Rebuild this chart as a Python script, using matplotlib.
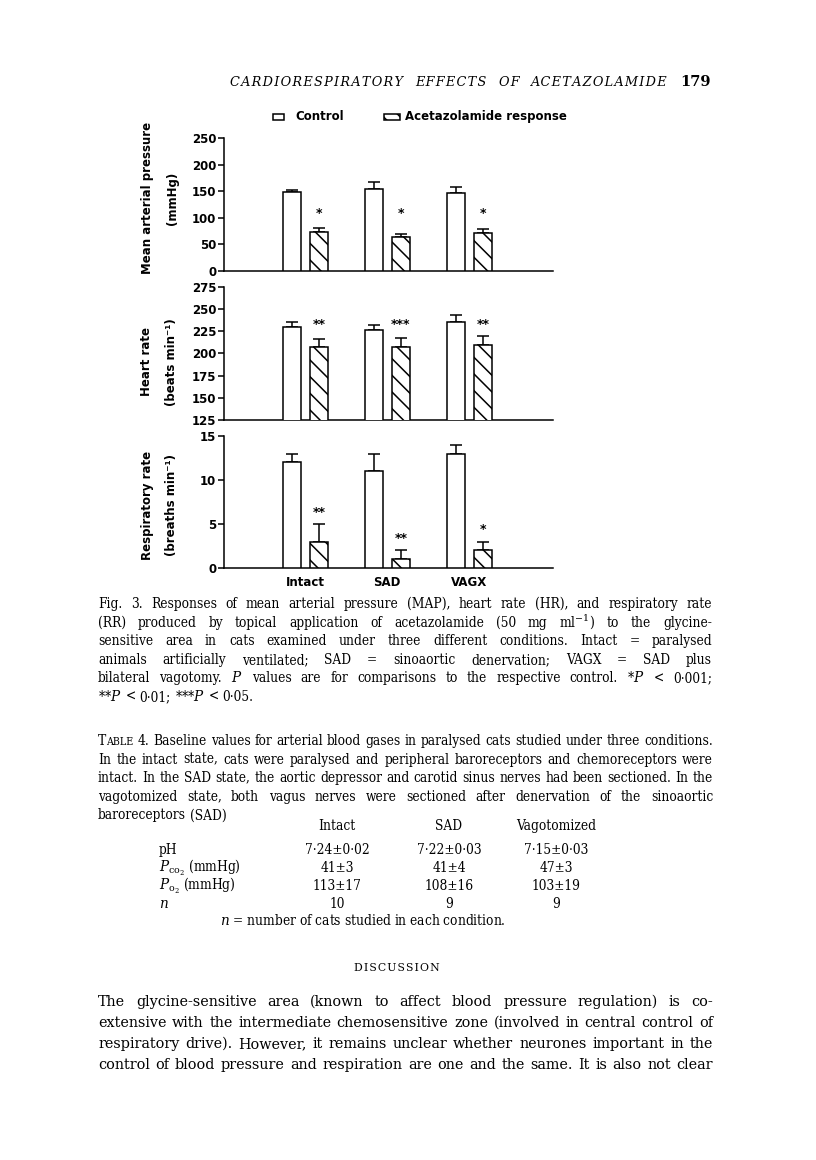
import matplotlib
matplotlib.use("Agg")
import matplotlib.pyplot as plt
import numpy as np
from matplotlib.patches import Rectangle
from matplotlib import font_manager as fm

# ---------------- data ----------------
categories = ["Intact", "SAD", "VAGX"]

map_control = [149, 155, 146]
map_control_err = [4, 13, 12]
map_acet = [74, 64, 72]
map_acet_err = [7, 6, 7]
map_stars = ["*", "*", "*"]

hr_control = [230, 227, 235]
hr_control_err = [6, 5, 8]
hr_acet = [207, 207, 210]
hr_acet_err = [9, 10, 10]
hr_stars = ["**", "***", "**"]

rr_control = [12, 11, 13]
rr_control_err = [1, 2, 1]
rr_acet = [3, 1, 2]
rr_acet_err = [2, 1, 1]
rr_stars = ["**", "**", "*"]

table_cols = ["Intact", "SAD", "Vagotomized"]
table_rows = ["pH", r"$P_{\mathrm{co}_2}$ (mmHg)", r"$P_{\mathrm{o}_2}$ (mmHg)", r"$n$"]
table_ph = ["7·24±0·02", "7·22±0·03", "7·15±0·03"]
table_pco2 = ["41±3", "41±4", "47±3"]
table_po2 = ["113±17", "108±16", "103±19"]
table_n = ["10", "9", "9"]

# ---------------- setup ----------------
plt.rcParams["mathtext.fontset"] = "dejavuserif"
plt.rcParams["hatch.linewidth"] = 1.1
W, H = 816, 1160
fig = plt.figure(figsize=(W / 100, H / 100), dpi=100)
fig.patch.set_facecolor("white")
renderer = fig.canvas.get_renderer()


def fx(x):
    return x / W


def fy(y):
    return 1 - y / H


has_cond = any(f.name == "DejaVu Serif" and str(f.stretch) == "condensed"
               for f in fm.fontManager.ttflist)
SANS = dict(family="DejaVu Sans", fontweight="bold")
SERIF = dict(family="DejaVu Serif")
CSERIF = dict(family="DejaVu Serif")
if has_cond:
    CSERIF["fontstretch"] = "condensed"
HATCH = "\\\\"
LW = 1.1

panels = [
    dict(top=138, bottom=271, ylim=(0, 250), ticks=[0, 50, 100, 150, 200, 250],
         ctrl=map_control, ctrl_err=map_control_err, acet=map_acet, acet_err=map_acet_err,
         stars=map_stars, star_level=109, label=("Mean arterial pressure", "(mmHg)"), lab_y=198),
    dict(top=287, bottom=420, ylim=(125, 275), ticks=[125, 150, 175, 200, 225, 250, 275],
         ctrl=hr_control, ctrl_err=hr_control_err, acet=hr_acet, acet_err=hr_acet_err,
         stars=hr_stars, star_level=233, label=("Heart rate", "(beats min⁻¹)"), lab_y=362),
    dict(top=436, bottom=568, ylim=(0, 15), ticks=[0, 5, 10, 15],
         ctrl=rr_control, ctrl_err=rr_control_err, acet=rr_acet, acet_err=rr_acet_err,
         stars=rr_stars, star_level=None, label=("Respiratory rate", "(breaths min⁻¹)"), lab_y=505),
]

x = np.arange(len(categories))
bw, off = 0.22, 0.165
ax_left, ax_right = 224, 553

for i, p in enumerate(panels):
    ax = fig.add_axes([fx(ax_left), fy(p["bottom"]), fx(ax_right) - fx(ax_left),
                       (p["bottom"] - p["top"]) / H])
    ax.set_facecolor("none")
    ax.bar(x - off, p["ctrl"], bw, color="white", edgecolor="black", lw=LW, zorder=3)
    ax.bar(x + off, p["acet"], bw, color="white", edgecolor="black", lw=LW, hatch=HATCH, zorder=3)
    for xs, v, e in ((x - off, p["ctrl"], p["ctrl_err"]), (x + off, p["acet"], p["acet_err"])):
        ax.errorbar(xs, v, yerr=[np.zeros(len(v)), e], fmt="none", ecolor="black",
                    elinewidth=LW, capsize=4, capthick=LW, zorder=2)
    span = p["ylim"][1] - p["ylim"][0]
    for j, s in enumerate(p["stars"]):
        if p["star_level"] is not None:
            sy = p["star_level"]
        else:
            sy = p["acet"][j] + p["acet_err"][j] + 0.09 * span
        ax.text(x[j] + off, sy, s, ha="center", va="center", fontsize=9, **SANS)
    ax.set_xlim(-0.99, 3.02)
    ax.set_ylim(*p["ylim"])
    ax.set_yticks(p["ticks"])
    ax.set_yticklabels([str(t) for t in p["ticks"]], fontsize=8.5, **SANS)
    for side in ("top", "right"):
        ax.spines[side].set_visible(False)
    for side in ("left", "bottom"):
        ax.spines[side].set_linewidth(LW)
    ax.tick_params(axis="y", direction="out", length=4, width=LW, pad=1.5)
    if i == 2:
        ax.set_xticks(x)
        ax.set_xticklabels(categories, fontsize=8.5, **SANS)
        ax.tick_params(axis="x", length=0, pad=6)
    else:
        ax.set_xticks([])
    fig.text(fx(147), fy(p["lab_y"]), p["label"][0], rotation=90, ha="center", va="center",
             fontsize=8.5, **SANS)
    fig.text(fx(172), fy(p["lab_y"]), p["label"][1], rotation=90, ha="center", va="center",
             fontsize=8.5, **SANS)

# legend
fig.add_artist(Rectangle((fx(273), fy(120)), fx(284) - fx(273), 6 / H, transform=fig.transFigure,
                         facecolor="white", edgecolor="black", lw=LW))
fig.add_artist(Rectangle((fx(384), fy(120)), fx(400) - fx(384), 6 / H, transform=fig.transFigure,
                         facecolor="white", edgecolor="black", lw=LW, hatch=HATCH))
fig.text(fx(295), fy(116.5), "Control", ha="left", va="center", fontsize=8.5, **SANS)
fig.text(fx(405), fy(116.5), "Acetazolamide response", ha="left", va="center", fontsize=8.5, **SANS)


# ---------------- text helpers ----------------
def text_width(s, size, **kw):
    t = fig.text(0, 0, s, fontsize=size, **kw)
    w = t.get_window_extent(renderer=renderer).width
    t.remove()
    return w


def fit_size(s, target, s0=10.0, **kw):
    size = s0
    for _ in range(3):
        size *= target / text_width(s, size, **kw)
    return size


def place_line(words, x0, x1, ybase, size, justify=True, **kw):
    items = []
    for w in words:
        segs = w if isinstance(w, list) else [(w, 1.0)]
        group = []
        for s, f in segs:
            t = fig.text(0, fy(ybase), s, fontsize=size * f, ha="left", va="baseline", **kw)
            group.append((t, t.get_window_extent(renderer=renderer).width))
        items.append(group)
    widths = [sum(wd for _, wd in g) for g in items]
    space = text_width("a a", size, **kw) - text_width("aa", size, **kw)
    if justify and len(items) > 1:
        gap = (x1 - x0 - sum(widths)) / (len(items) - 1)
    else:
        gap = space
    xx = x0
    for g in items:
        for t, tw in g:
            t.set_x(fx(xx))
            xx += tw
        xx += gap


def place_par(lines, x0, x1, y0, dy, size, last_justify=False, **kw):
    for k, ln in enumerate(lines):
        words = ln if isinstance(ln, list) else ln.split(" ")
        just = last_justify or k < len(lines) - 1
        place_line(words, x0, x1, y0 + k * dy, size, justify=just, **kw)


# running head (letter-spaced italic capitals)
head = "CARDIORESPIRATORY EFFECTS OF ACETAZOLAMIDE"
HS = "\u200a"
head_words = [HS.join(wd) for wd in head.split(" ")]
HEADKW = dict(family="DejaVu Serif", style="italic")
hsize = 0.95 * fit_size(" ".join(head_words), 438, **HEADKW)
place_line(head_words, 230, 668, 86, hsize, **HEADKW)
fig.text(fx(711), fy(86), "179", ha="right", va="baseline", fontsize=10.5, family="DejaVu Serif",
         fontweight="bold")

# figure caption
cap = [
    "Fig. 3. Responses of mean arterial pressure (MAP), heart rate (HR), and respiratory rate",
    "(RR) produced by topical application of acetazolamide (50 mg ml$^{-1}$) to the glycine-",
    "sensitive area in cats examined under three different conditions. Intact = paralysed",
    "animals artificially ventilated; SAD = sinoaortic denervation; VAGX = SAD plus",
    "bilateral vagotomy. $P$ values are for comparisons to the respective control. *$P$ < 0·001;",
    "**$P$ < 0·01; ***$P$ < 0·05.",
]
tcap_first = "TABLE 4. Baseline values for arterial blood gases in paralysed cats studied under three conditions."
tcap = [
    [[("T", 1.0), ("ABLE", 0.78)], "4."] + tcap_first.split(" ")[2:],
    "In the intact state, cats were paralysed and peripheral baroreceptors and chemoreceptors were",
    "intact. In the SAD state, the aortic depressor and carotid sinus nerves had been sectioned. In the",
    "vagotomized state, both vagus nerves were sectioned after denervation of the sinoaortic",
    "baroreceptors (SAD)",
]
fit_lines = cap[:2] + cap[4:5] + [tcap_first.replace("ABLE", "able")] + tcap[1:3]
csize = 0.985 * min(fit_size(s, 614, **CSERIF) for s in fit_lines)
place_par(cap, 98, 712, 608, 18.6, csize, **CSERIF)
place_par(tcap, 98, 713, 745, 18.6, csize, **CSERIF)

# table
col_x = [337, 449, 556]
for cx, c in zip(col_x, table_cols):
    fig.text(fx(cx), fy(830), c, ha="center", va="baseline", fontsize=csize, **CSERIF)
row_vals = [table_ph, table_pco2, table_po2, table_n]
for r, (lab, vals) in enumerate(zip(table_rows, row_vals)):
    yb = 854 + r * 18
    fig.text(fx(159), fy(yb), lab, ha="left", va="baseline", fontsize=csize, **CSERIF)
    for cx, v in zip(col_x, vals):
        fig.text(fx(cx), fy(yb), v, ha="center", va="baseline", fontsize=csize, **CSERIF)
fig.text(fx(363), fy(925), r"$n$ = number of cats studied in each condition.", ha="center",
         va="baseline", fontsize=csize, **CSERIF)

# discussion
fig.text(fx(397), fy(971), HS.join("DISCUSSION"), ha="center", va="baseline",
         fontsize=csize * 0.8, **SERIF)
body = [
    "The glycine-sensitive area (known to affect blood pressure regulation) is co-",
    "extensive with the intermediate chemosensitive zone (involved in central control of",
    "respiratory drive). However, it remains unclear whether neurones important in the",
    "control of blood pressure and respiration are one and the same. It is also not clear",
]
bsize = 0.99 * min(fit_size(s, 615, **SERIF) for s in body)
place_par(body, 98, 713, 1006, 21, bsize, last_justify=True, **SERIF)

fig.savefig("out.png", dpi=100, facecolor="white")
